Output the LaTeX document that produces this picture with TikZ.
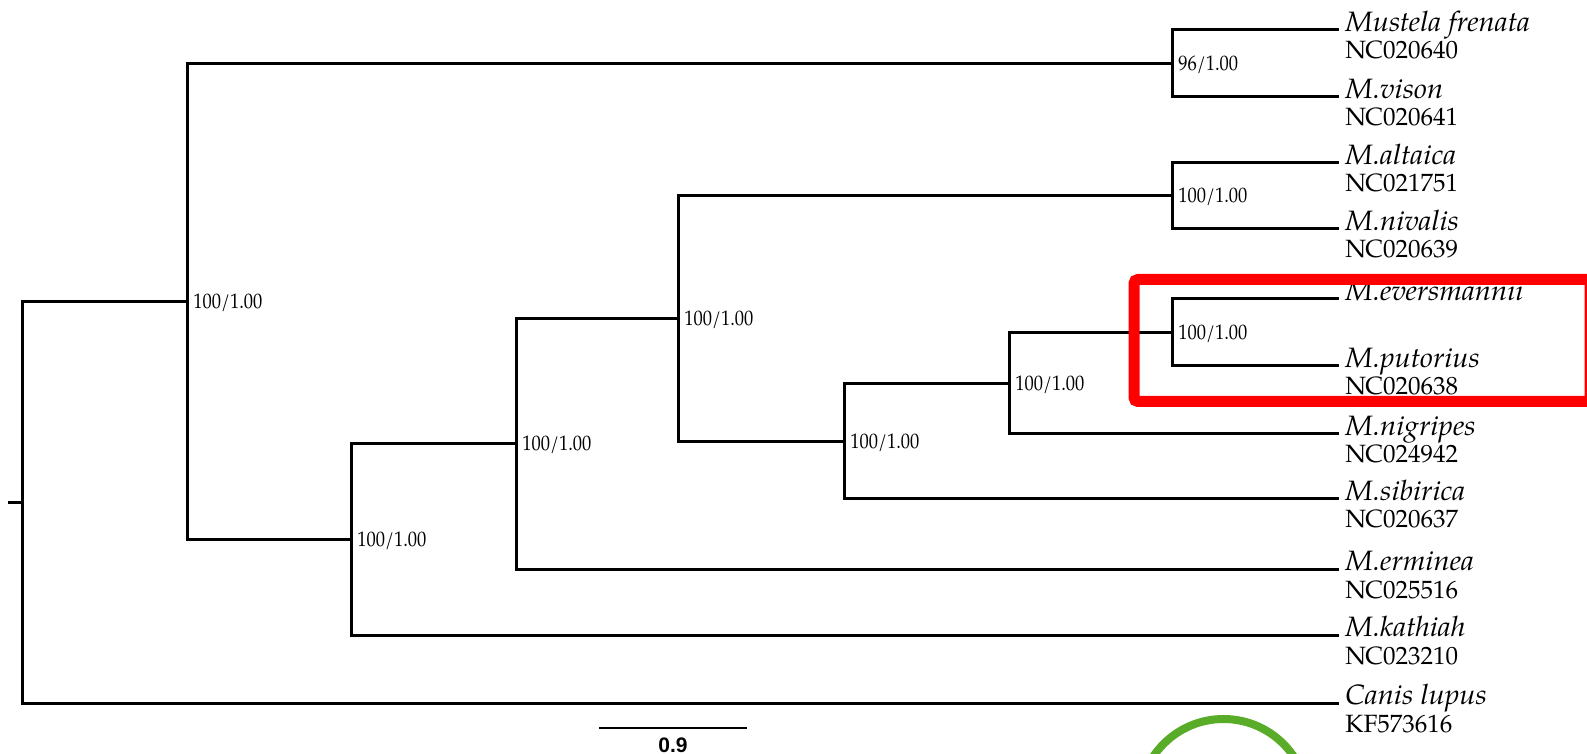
\documentclass[tikz,border=0pt]{standalone}
\usepackage{fontspec}
\setmainfont{texgyrepagella}[Extension=.otf, UprightFont=*-regular, ItalicFont=*-italic, BoldFont=*-bold, BoldItalicFont=*-bolditalic]
\newfontfamily\taxfont{texgyrepagella-italic}[Extension=.otf, FakeStretch=1.04]
\newfontfamily\suppfont{texgyrepagella-regular}[Extension=.otf, FakeStretch=0.88]
\newfontfamily\barfont{Liberation Sans}
\begin{document}
\begin{tikzpicture}[x=0.5pt,y=-0.5pt,
  branch/.style={line width=1.5pt, line join=miter, line cap=rect},
  supp/.style={anchor=base west, inner sep=0pt, font=\suppfont\fontsize{10.5}{12}\selectfont},
  taxon/.style={anchor=base west, inner sep=0pt, font=\taxfont\fontsize{14}{16}\selectfont},
  acc/.style={anchor=base west, inner sep=0pt, font=\fontsize{12.5}{14}\selectfont},
  highlight/.style={draw=red, line width=5.5pt, rounded corners=2pt},
  ring/.style={draw=ringgreen, line width=4pt}]
\definecolor{ringgreen}{RGB}{88,172,40}
\useasboundingbox (0,0) rectangle (1587,754);
\clip (0,0) rectangle (1587,754);
% tips
\coordinate (t1) at (1337,30);
\coordinate (t2) at (1337,97);
\coordinate (t3) at (1337,163);
\coordinate (t4) at (1337,229);
\coordinate (t5) at (1337,299);
\coordinate (t6) at (1337,366);
\coordinate (t7) at (1337,434);
\coordinate (t8) at (1337,499);
\coordinate (t9) at (1337,569);
\coordinate (t10) at (1337,635);
\coordinate (t11) at (1337,703);
% internal nodes
\coordinate (n1) at (1172,63.5);
\coordinate (n2) at (1172,196);
\coordinate (n3) at (1172,332.5);
\coordinate (n4) at (1009,383.25);
\coordinate (n5) at (844,441.1);
\coordinate (n6) at (678,318.6);
\coordinate (n7) at (516,443.8);
\coordinate (n8) at (351,539.4);
\coordinate (nA) at (187,301.5);
\coordinate (root) at (22.5,502.2);
\coordinate (rootstub) at (9,502.2);
% branches
\draw[branch] (rootstub) -- (root);
\draw[branch] (root) |- (nA);
\draw[branch] (root) |- (t11);
\draw[branch] (nA) |- (n1);
\draw[branch] (nA) |- (n8);
\draw[branch] (n1) |- (t1);
\draw[branch] (n1) |- (t2);
\draw[branch] (n8) |- (n7);
\draw[branch] (n8) |- (t10);
\draw[branch] (n7) |- (n6);
\draw[branch] (n7) |- (t9);
\draw[branch] (n6) |- (n2);
\draw[branch] (n6) |- (n5);
\draw[branch] (n2) |- (t3);
\draw[branch] (n2) |- (t4);
\draw[branch] (n5) |- (n4);
\draw[branch] (n5) |- (t8);
\draw[branch] (n4) |- (n3);
\draw[branch] (n4) |- (t7);
\draw[branch] (n3) |- (t5);
\draw[branch] (n3) |- (t6);
% support values
\node[supp] (s1) at ([xshift=3pt,yshift=-3.5pt]n1) {96/1.00};
\node[supp] (s2) at ([xshift=3pt,yshift=-3.5pt]n2) {100/1.00};
\node[supp] (s3) at ([xshift=3pt,yshift=-3.5pt]n3) {100/1.00};
\node[supp] (s4) at ([xshift=3pt,yshift=-3.5pt]n4) {100/1.00};
\node[supp] (s5) at ([xshift=3pt,yshift=-3.5pt]n5) {100/1.00};
\node[supp] (s6) at ([xshift=3pt,yshift=-3.5pt]n6) {100/1.00};
\node[supp] (s7) at ([xshift=3pt,yshift=-3.5pt]n7) {100/1.00};
\node[supp] (s8) at ([xshift=3pt,yshift=-3.5pt]n8) {100/1.00};
\node[supp] (sA) at ([xshift=3pt,yshift=-3.5pt]nA) {100/1.00};
% taxon labels
\node[taxon] (l1) at ([xshift=4pt,yshift=-0.8pt]t1) {Mustela frenata};
\node[acc] (a1) at ([xshift=4pt,yshift=-14.5pt]t1) {NC020640};
\node[taxon] (l2) at ([xshift=4pt,yshift=-0.8pt]t2) {M.vison};
\node[acc] (a2) at ([xshift=4pt,yshift=-14.5pt]t2) {NC020641};
\node[taxon] (l3) at ([xshift=4pt,yshift=-0.8pt]t3) {M.altaica};
\node[acc] (a3) at ([xshift=4pt,yshift=-14.5pt]t3) {NC021751};
\node[taxon] (l4) at ([xshift=4pt,yshift=-0.8pt]t4) {M.nivalis};
\node[acc] (a4) at ([xshift=4pt,yshift=-14.5pt]t4) {NC020639};
\node[taxon] (l5) at ([xshift=4pt,yshift=-0.8pt]t5) {M.eversmannii};
\node[taxon] (l6) at ([xshift=4pt,yshift=-0.8pt]t6) {M.putorius};
\node[acc] (a6) at ([xshift=4pt,yshift=-14.5pt]t6) {NC020638};
\node[taxon] (l7) at ([xshift=4pt,yshift=-0.8pt]t7) {M.nigripes};
\node[acc] (a7) at ([xshift=4pt,yshift=-14.5pt]t7) {NC024942};
\node[taxon] (l8) at ([xshift=4pt,yshift=-0.8pt]t8) {M.sibirica};
\node[acc] (a8) at ([xshift=4pt,yshift=-14.5pt]t8) {NC020637};
\node[taxon] (l9) at ([xshift=4pt,yshift=-0.8pt]t9) {M.erminea};
\node[acc] (a9) at ([xshift=4pt,yshift=-14.5pt]t9) {NC025516};
\node[taxon] (l10) at ([xshift=4pt,yshift=-0.8pt]t10) {M.kathiah};
\node[acc] (a10) at ([xshift=4pt,yshift=-14.5pt]t10) {NC023210};
\node[taxon] (l11) at ([xshift=4pt,yshift=-0.8pt]t11) {Canis lupus};
\node[acc] (a11) at ([xshift=4pt,yshift=-14.5pt]t11) {KF573616};
% scale bar
\coordinate (sbL) at (599,728);
\coordinate (sbR) at (747,728);
\draw[line width=0.75pt] (sbL) -- (sbR);
\node[inner sep=0pt, font=\barfont\bfseries\fontsize{10.5}{12}\selectfont] (sbl) at (673,745) {0.9};
% highlight
\draw[highlight] (1134,279.5) rectangle (1590,401.5);
\draw[ring] (1223.5,803.5) circle (84.5);
\end{tikzpicture}
\end{document}
